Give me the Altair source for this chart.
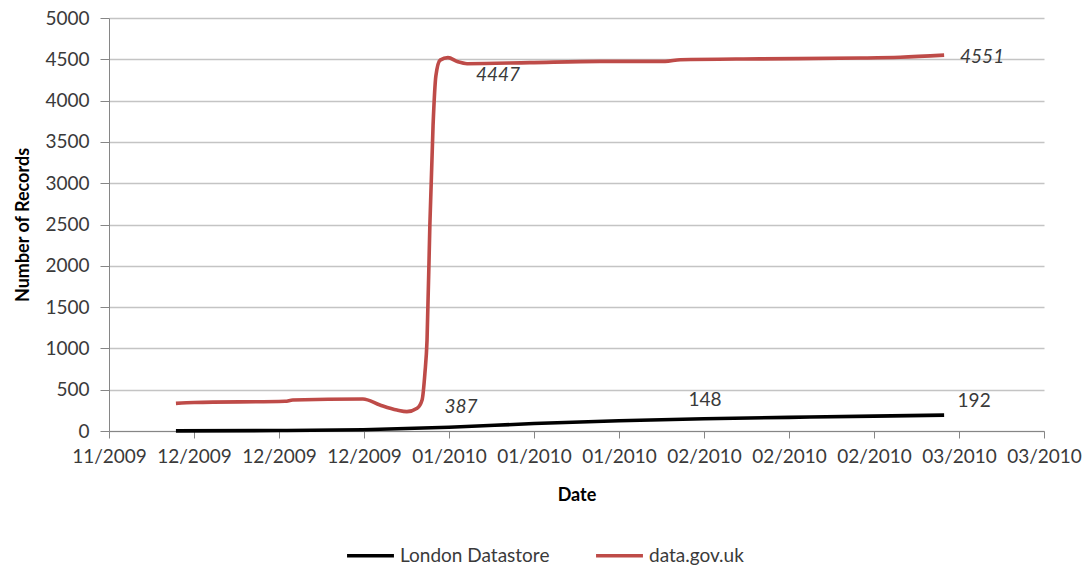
import altair as alt
import pandas as pd

series_names = ["London Datastore", "data.gov.uk"]
series_colors = ["#000000", "#be4b48"]

red_dates = [
    "2009-12-05T21:00", "2009-12-08T00:00", "2009-12-18T17:00", "2009-12-19T15:00",
    "2009-12-27T21:00", "2009-12-29T21:00", "2009-12-31T21:00", "2010-01-02T01:00",
    "2010-01-03T06:00", "2010-01-03T20:00", "2010-01-04T04:00", "2010-01-04T10:00",
    "2010-01-04T18:00", "2010-01-05T03:00", "2010-01-05T11:00", "2010-01-05T23:00",
    "2010-01-06T21:00", "2010-01-08T01:00", "2010-01-09T03:00", "2010-01-16T12:00",
    "2010-01-24T18:00", "2010-02-01T10:00", "2010-02-03T05:00", "2010-02-12T14:00",
    "2010-02-24T10:00", "2010-03-01T02:00", "2010-03-06T06:00",
]
red_values = [
    335, 345, 360, 375,
    387, 315, 254, 234,
    275, 375, 700, 1100,
    2500, 3700, 4300, 4490,
    4520, 4470, 4447, 4460,
    4475, 4475, 4495, 4505,
    4515, 4525, 4551,
]

black_dates = [
    "2009-12-05T21:00", "2009-12-18T00:00", "2009-12-27T21:00", "2010-01-07T00:00",
    "2010-01-17T00:00", "2010-01-27T00:00", "2010-02-06T00:00", "2010-02-16T00:00",
    "2010-02-26T00:00", "2010-03-06T06:00",
]
black_values = [2, 6, 16, 45, 90, 125, 148, 165, 180, 192]

tick_dates = [
    "2009-11-28", "2009-12-08", "2009-12-18", "2009-12-28", "2010-01-07", "2010-01-17",
    "2010-01-27", "2010-02-06", "2010-02-16", "2010-02-26", "2010-03-08", "2010-03-18",
]
y_ticks = [0, 500, 1000, 1500, 2000, 2500, 3000, 3500, 4000, 4500, 5000]

# data labels
label_dates = ["2009-12-27T21:00", "2010-01-09T03:00", "2010-03-06T06:00", "2010-02-06T00:00", "2010-03-06T06:00"]
label_values = [387, 4447, 4551, 148, 192]
label_texts = ["387", "4447", "4551", "148", "192"]
label_italic = [True, True, True, False, False]
label_dx = [98, 31, 38, 1, 30]
label_dy = [8, 11, 2, -19, -14]

FONT = "Lato"


def dt(s):
    t = pd.Timestamp(s)
    return alt.DateTime(year=t.year, month=t.month, date=t.day, hours=t.hour)


df = pd.concat([
    pd.DataFrame({"date": black_dates, "value": black_values, "series": series_names[0]}),
    pd.DataFrame({"date": red_dates, "value": red_values, "series": series_names[1]}),
], ignore_index=True)

x_enc = alt.X(
    "date:T",
    scale=alt.Scale(domain=[dt(tick_dates[0]), dt(tick_dates[-1])]),
    axis=alt.Axis(
        values=[dt(t) for t in tick_dates], format="%m/%Y", title="Date",
        grid=False, domainColor="#868686", tickColor="#868686", tickSize=7,
        labelFontSize=19, labelPadding=9, labelColor="#3a3a3a", labelFont=FONT,
        titleFont=FONT, titleFontSize=18, titleFontWeight="bold", titleColor="#000000",
        titlePadding=20, labelOverlap=False, labelFlush=False,
    ),
)
y_enc = alt.Y(
    "value:Q",
    scale=alt.Scale(domain=[0, 5000], nice=False),
    axis=alt.Axis(
        values=y_ticks, format="d", title="Number of Records", grid=True, gridColor="#c4c4c4",
        gridWidth=1.3, domainColor="#868686", tickColor="#868686", tickSize=9,
        labelFontSize=19, labelPadding=11, labelColor="#3a3a3a", labelFont=FONT,
        titleFont=FONT, titleFontSize=18, titleFontWeight="bold", titleColor="#000000",
        titlePadding=12,
    ),
)

lines = alt.Chart(df).mark_line(interpolate="monotone", strokeWidth=3.6).encode(
    x=x_enc,
    y=y_enc,
    color=alt.Color(
        "series:N",
        scale=alt.Scale(domain=series_names, range=series_colors),
        sort=series_names,
        legend=alt.Legend(
            title=None, orient="none", direction="horizontal", legendX=236, legendY=512,
            symbolType="stroke", symbolSize=2200, symbolStrokeWidth=3.6,
            labelFontSize=19, labelFont=FONT, labelColor="#3a3a3a", columnPadding=38,
            labelOffset=4, padding=0,
        ),
    ),
)

layers = [lines]
for i in range(len(label_texts)):
    ldf = pd.DataFrame({"date": [label_dates[i]], "value": [label_values[i]], "text": [label_texts[i]]})
    layers.append(
        alt.Chart(ldf).mark_text(
            dx=label_dx[i], dy=label_dy[i], fontSize=19, font=FONT,
            fontStyle="italic" if label_italic[i] else "normal",
            color="#3a3a3a", align="center", baseline="middle",
        ).encode(x="date:T", y="value:Q", text="text:N")
    )

chart = alt.layer(*layers).properties(
    width=935, height=413,
    autosize=alt.AutoSizeParams(type="none"),
    padding={"left": 101, "top": 10, "right": 40, "bottom": 145},
).configure_view(stroke=None)

chart.save("out.html", embed_options={"renderer": "svg", "actions": False})
